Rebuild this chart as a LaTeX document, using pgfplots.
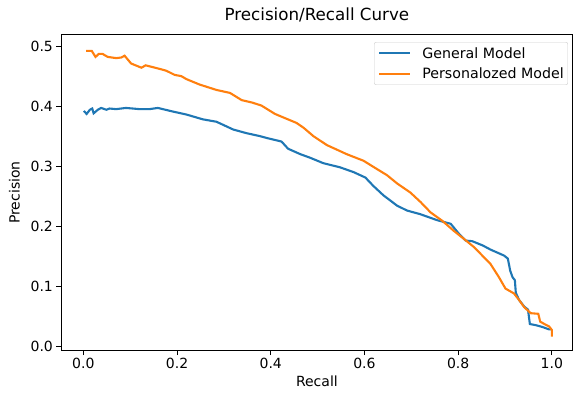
\documentclass[border=0pt]{standalone}
\usepackage{pgfplots}
\pgfplotsset{compat=1.18}
\usepackage{fontspec}
\setmainfont{DejaVu Sans}
\definecolor{mplblue}{HTML}{1F77B4}
\definecolor{mplorange}{HTML}{FF7F0E}
\begin{document}
\begin{tikzpicture}
\begin{axis}[
  scale only axis, width=511pt, height=315.3pt,
  xmin=-0.047, xmax=1.044, ymin=-0.0055, ymax=0.52,
  xtick={0,0.2,...,1.0}, ytick={0,0.1,...,0.5},
  xticklabel style={/pgf/number format/.cd,fixed,fixed zerofill,precision=1},
  yticklabel style={/pgf/number format/.cd,fixed,fixed zerofill,precision=1},
  /pgf/number format/assume math mode=true,
  tick align=outside, tick pos=left, major tick length=4.9pt,
  tick style={black, line width=1.1pt},
  axis line style={line width=1.1pt},
  ticklabel style={font=\fontsize{14}{16}\selectfont},
  title={Precision/Recall Curve},
  title style={font=\fontsize{16.7}{19}\selectfont, at={(0.5,1)}, anchor=base, yshift=8pt},
  xlabel={Recall}, ylabel={Precision},
  label style={font=\fontsize{14}{16}\selectfont},
  ylabel shift=4pt,
  legend style={at={(1,1)}, xshift=-4.5pt, yshift=-7.3pt, anchor=north east, draw=black!20, rounded corners=2pt,
    font=\fontsize{14.2}{16}\selectfont, row sep=8pt, inner xsep=4pt, inner ysep=5pt,
    nodes={inner xsep=0pt, inner ysep=0pt},
    /tikz/every odd column/.append style={column sep=11pt}},
  legend cell align=left,
  legend image code/.code={\draw[#1, line width=2.1pt] (0pt,0pt) -- (31pt,0pt);},
]
\addplot[mplblue, line width=2.1pt] coordinates {
(0.001,0.393) (0.007,0.388) (0.014,0.395) (0.019,0.397) (0.022,0.389) (0.031,0.395) (0.038,0.398) (0.049,0.395) (0.056,0.397) (0.07,0.396) (0.091,0.398) (0.12,0.396) (0.141,0.396) (0.159,0.398) (0.191,0.392) (0.22,0.387) (0.255,0.379) (0.284,0.375) (0.32,0.362) (0.348,0.356) (0.377,0.351) (0.391,0.348) (0.423,0.342) (0.437,0.33) (0.463,0.321) (0.484,0.315) (0.512,0.306) (0.548,0.299) (0.577,0.291) (0.602,0.282) (0.619,0.268) (0.641,0.252) (0.67,0.235) (0.691,0.227) (0.719,0.221) (0.755,0.211) (0.784,0.205) (0.802,0.188) (0.816,0.177) (0.83,0.176) (0.852,0.169) (0.869,0.162) (0.898,0.152) (0.906,0.147) (0.911,0.127) (0.916,0.116) (0.921,0.111) (0.923,0.09) (0.93,0.078) (0.941,0.067) (0.949,0.062) (0.953,0.038) (0.966,0.036) (0.98,0.033) (0.994,0.029) (1.0,0.029)
};
\addlegendentry{General Model}
\addplot[mplorange, line width=2.1pt] coordinates {
(0.006,0.493) (0.018,0.493) (0.026,0.483) (0.033,0.488) (0.041,0.488) (0.052,0.483) (0.07,0.481) (0.081,0.482) (0.088,0.485) (0.102,0.472) (0.124,0.465) (0.133,0.469) (0.163,0.463) (0.177,0.46) (0.195,0.453) (0.209,0.451) (0.22,0.446) (0.248,0.437) (0.284,0.428) (0.313,0.423) (0.338,0.411) (0.36,0.407) (0.38,0.402) (0.409,0.388) (0.455,0.373) (0.47,0.365) (0.491,0.351) (0.52,0.336) (0.562,0.321) (0.598,0.31) (0.627,0.296) (0.648,0.286) (0.67,0.272) (0.698,0.257) (0.72,0.241) (0.741,0.224) (0.766,0.21) (0.791,0.193) (0.812,0.18) (0.834,0.166) (0.869,0.138) (0.887,0.116) (0.901,0.097) (0.919,0.089) (0.93,0.078) (0.941,0.066) (0.955,0.056) (0.971,0.055) (0.975,0.042) (0.984,0.038) (0.994,0.034) (1.0,0.028) (1.0,0.017)
};
\addlegendentry{Personalozed Model}
\end{axis}
\pgfresetboundingbox
\path[use as bounding box] ([shift={(-61.3pt,-43pt)}]current axis.south west) rectangle ([shift={(1.5pt,34.7pt)}]current axis.north east);
\end{tikzpicture}
\end{document}
